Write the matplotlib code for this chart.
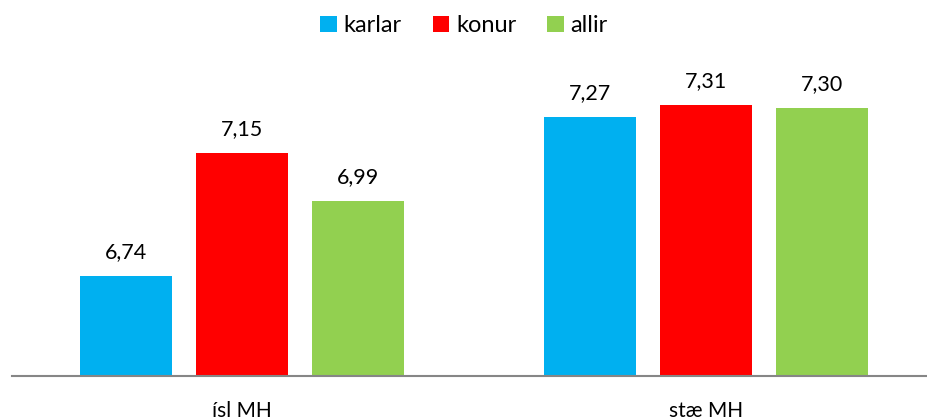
import matplotlib
matplotlib.use("Agg")
import matplotlib.pyplot as plt
import numpy as np

categories = ["ísl MH", "stæ MH"]
series_names = ["karlar", "konur", "allir"]
karlar = [6.74, 7.27]
konur = [7.15, 7.31]
allir = [6.99, 7.30]
colors = ["#00B0F0", "#FF0000", "#92D050"]

plt.rcParams['font.family'] = ['Lato', 'DejaVu Sans']

fig = plt.figure(figsize=(9.28, 4.2), dpi=100)
W, H = 928, 420
ax_left, ax_right = 12, 928
ax_bottom, ax_top = 376, 76
ax = fig.add_axes([ax_left / W, 1 - ax_bottom / H, (ax_right - ax_left) / W, (ax_bottom - ax_top) / H])

x = np.arange(len(categories))
width = 0.2
offsets = [-0.25, 0, 0.25]
for vals, name, col, off in zip([karlar, konur, allir], series_names, colors, offsets):
    bars = ax.bar(x + off, vals, width, color=col, label=name, zorder=2)
    for b, v in zip(bars, vals):
        ax.text(b.get_x() + b.get_width() / 2, v + 0.045, f"{v:.2f}".replace(".", ","),
                ha="center", va="bottom", fontsize=15.5, color="#000000", clip_on=False)

ax.set_ylim(6.405, 7.405)
ax.set_xlim((ax_left - 242) / 464, (ax_right - 242) / 464)
ax.set_yticks([])
ax.set_xticks(x)
ax.set_xticklabels(categories, fontsize=15)
ax.tick_params(axis="x", length=0, pad=18)
for s in ["top", "right", "left"]:
    ax.spines[s].set_visible(False)
ax.spines["bottom"].set_color("#868686")
ax.spines["bottom"].set_linewidth(1.5)

leg = fig.legend(loc="upper center", bbox_to_anchor=(0.5, 1.0), ncol=3, frameon=False,
                 fontsize=17, handlelength=0.7, handleheight=0.7, handletextpad=0.3,
                 columnspacing=1.3, borderaxespad=0.25)

fig.savefig("out.png", dpi=100)
